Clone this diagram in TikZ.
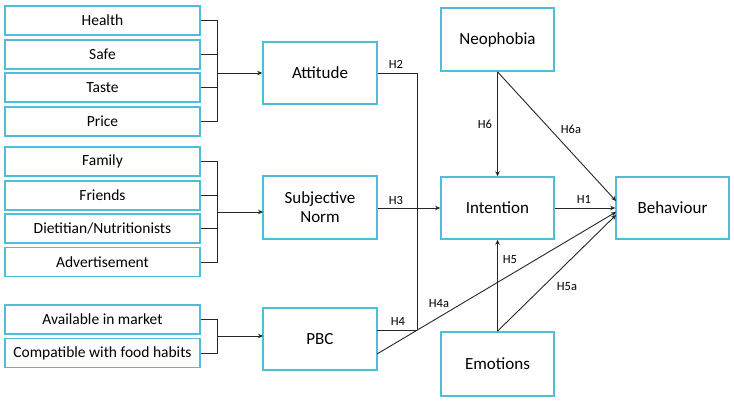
\documentclass[tikz,border=0pt]{standalone}
\usepackage{fontspec}
\setmainfont{Carlito}
\usetikzlibrary{arrows.meta}
\definecolor{boxblue}{RGB}{79,190,216}
\tikzset{
  small/.style={draw=boxblue, line width=1.6pt, minimum width=195pt, minimum height=29pt, inner sep=0pt, font=\fontsize{15.5}{17}\selectfont},
  big/.style={draw=boxblue, line width=1.6pt, minimum width=114pt, minimum height=62pt, inner sep=0pt, align=center, font=\fontsize{17}{19}\selectfont},
  conn/.style={draw=black!85, line width=0.9pt},
  arr/.style={conn, -{Stealth[length=5pt,width=4.5pt]}},
  lab/.style={font=\fontsize{12.5}{14}\selectfont, inner sep=0pt}
}
\begin{document}
\begin{tikzpicture}[x=1pt,y=-1pt]
\useasboundingbox (0,0) rectangle (734,401);
% left boxes
\node[small] (health) at (102.5,20.5) {Health};
\node[small] (safe) at (102.5,54.5) {Safe};
\node[small] (taste) at (102.5,87.5) {Taste};
\node[small] (price) at (102.5,121.5) {Price};
\node[small] (family) at (102.5,161.5) {Family};
\node[small] (friends) at (102.5,195.5) {Friends};
\node[small] (diet) at (102.5,228.5) {Dietitian/Nutritionists};
\node[small] (adv) at (102.5,262) {Advertisement};
\node[small] (avail) at (102.5,319.5) {Available in market};
\node[small] (compat) at (102.5,353) {Compatible with food habits};
% middle boxes
\node[big] (att) at (320,73) {Attitude};
\node[big, minimum height=63pt] (sn) at (320,207.5) {Subjective\\Norm};
\node[big] (pbc) at (320,339) {PBC};
% right boxes
\node[big, minimum width=113pt, minimum height=63pt] (neo) at (497.5,39.5) {Neophobia};
\node[big, minimum width=113pt] (int) at (497.5,208) {Intention};
\node[big, minimum width=113pt, minimum height=64pt] (emo) at (497.5,364) {Emotions};
\node[big, minimum width=113pt] (beh) at (672.5,208) {Behaviour};
% junction coordinates
\coordinate (bx) at (217,0);
\coordinate (vx) at (417,0);
\coordinate (snIn) at (263,212);
\coordinate (pbcIn) at (263,336);
\coordinate (pbcH4) at (377,330);
\coordinate (pbcH4a) at (377,354);
\coordinate (vBot) at (417,330);
\coordinate (bH6a) at (616,201);
\coordinate (bH4a) at (616,212);
\coordinate (bH5a) at (616,215);
% attitude bracket
\draw[conn] (health.east) -- (health.east -| bx) -- (price.east -| bx) -- (price.east);
\draw[conn] (safe.east) -- (safe.east -| bx);
\draw[conn] (taste.east) -- (taste.east -| bx);
\draw[arr] (att.west -| bx) -- (att.west);
% subjective norm bracket
\draw[conn] (family.east) -- (family.east -| bx) -- (adv.east -| bx) -- (adv.east);
\draw[conn] (friends.east) -- (friends.east -| bx);
\draw[conn] (diet.east) -- (diet.east -| bx);
\draw[arr] (snIn -| bx) -- (snIn);
% PBC bracket
\draw[conn] (avail.east) -- (avail.east -| bx) -- (compat.east -| bx) -- (compat.east);
\draw[arr] (pbcIn -| bx) -- (pbcIn);
% H2, H3, H4
\draw[conn] (att.east) -- (att.east -| vx) -- (vBot);
\draw[conn] (pbcH4) -- (vBot);
\draw[arr] (sn.east |- int.west) -- (int.west);
% right arrows
\draw[arr] (neo.south) -- (int.north);
\draw[arr] (neo.south) -- (bH6a);
\draw[arr] (int.east) -- (beh.west);
\draw[arr] (emo.north) -- (int.south);
\draw[arr] (emo.north) -- (bH5a);
\draw[arr] (pbcH4a) -- (bH4a);
% labels
\node[lab] (lH2) at (396,64) {H2};
\node[lab] (lH3) at (396,200) {H3};
\node[lab] (lH4) at (398,321) {H4};
\node[lab] (lH4a) at (439,304) {H4a};
\node[lab] (lH5) at (510,260) {H5};
\node[lab] (lH5a) at (567,287) {H5a};
\node[lab] (lH6) at (485,124) {H6};
\node[lab] (lH6a) at (571,129) {H6a};
\node[lab] (lH1) at (584,199) {H1};
\end{tikzpicture}
\end{document}
